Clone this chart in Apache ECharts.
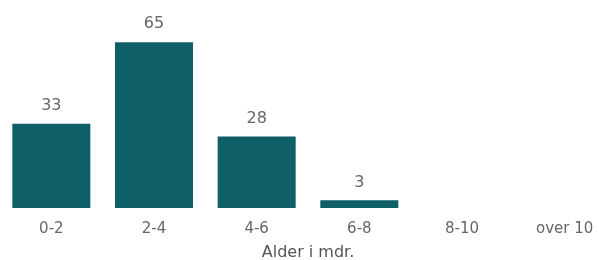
<!DOCTYPE html>
<html>
<head>
<meta charset="utf-8">
<script src="https://cdn.jsdelivr.net/npm/echarts@6/dist/echarts.min.js"></script>
<style>
  html, body { margin: 0; padding: 0; background: #fff; }
  #chart { width: 599px; height: 260px; }
</style>
</head>
<body>
<div id="chart"></div>
<script>
// aldersgrupper og antall
const categories = ['0-2', '2-4', '4-6', '6-8', '8-10', 'over 10']
const counts = [33, 65, 28, 3, null, null]
const axisTitle = 'Alder i mdr.'

const chart = echarts.init(document.getElementById('chart'))
chart.setOption({
  animation: false,
  grid: {
    left: 0,
    width: 616,
    top: 4,
    bottom: 52,
    outerBoundsMode: 'none'
  },
  xAxis: {
    type: 'category',
    data: categories,
    name: axisTitle,
    nameLocation: 'middle',
    nameGap: 37,
    nameTextStyle: {
      color: '#555',
      fontSize: 16,
      fontFamily: 'DejaVu Sans'
    },
    axisLine: { show: false },
    axisTick: { show: false },
    axisLabel: {
      color: '#666',
      fontSize: 15,
      margin: 14,
      fontFamily: 'DejaVu Sans'
    }
  },
  yAxis: {
    type: 'value',
    min: 0,
    max: 80,
    show: false
  },
  series: [
    {
      type: 'bar',
      data: counts,
      barCategoryGap: '24%',
      itemStyle: { color: '#0f5f69' },
      label: {
        show: true,
        position: 'top',
        distance: 10,
        color: '#666',
        fontSize: 16,
        fontFamily: 'DejaVu Sans'
      }
    }
  ]
})
</script>
</body>
</html>
